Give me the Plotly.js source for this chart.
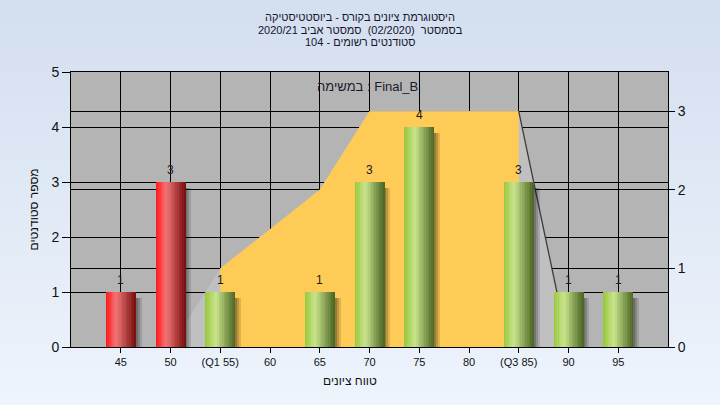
<!DOCTYPE html>
<html><head><meta charset="utf-8">
<script src="https://cdn.plot.ly/plotly-3.0.1.min.js"></script>
<style>
html,body{margin:0;padding:0;}
body{width:720px;height:405px;background:linear-gradient(to bottom,#d3deef 0%,#eef4fc 100%);overflow:hidden;}
#chart{width:720px;height:405px;}
</style>
</head><body><div id="chart"></div>
<script>
// ---- data ----
const gradeLabels = ['45','50','(Q1 55)','60','65','70','75','80','(Q3 85)','90','95'];
const grades = [45,50,55,60,65,70,75,80,85,90,95];
const studentCounts = [1,3,1,0,1,3,4,0,3,1,1];
const curveValues = [0,0,1,1.5,2,3,3,3,3,0,0];
const passGrade = 55;
const titleLines = [
  'היסטוגרמת ציונים בקורס - ביוסטטיסטיקה',
  'בסמסטר  (02/2020)  סמסטר אביב 2020/21',
  'סטודנטים רשומים - 104'
];
const legendText = 'במשימה : Final_B';
const yTitle = 'מספר סטודנטים';
const xTitle = 'טווח ציונים';
const leftTicks = [0,1,2,3,4,5];
const rightTicks = [0,1,2,3];

// ---- build ----
const FONT = 'Liberation Sans, Arial, DejaVu Sans, sans-serif';
const idx = grades.map((g,i)=>i);
const q1 = gradeLabels.findIndex(s=>s.indexOf('Q1')>=0);
const q3 = gradeLabels.findIndex(s=>s.indexOf('Q3')>=0);

function lerp(a,b,t){return a.map((v,i)=>Math.round(v+(b[i]-v)*t));}
function grad(stops,t){
  for(let i=0;i<stops.length-1;i++){
    if(t<=stops[i+1][0]){
      const tt=(t-stops[i][0])/(stops[i+1][0]-stops[i][0]);
      const c=lerp(stops[i][1],stops[i+1][1],tt);
      return 'rgb('+c.join(',')+')';
    }
  }
  const c=stops[stops.length-1][1];return 'rgb('+c.join(',')+')';
}
const redStops=[[0,[255,20,20]],[0.35,[242,118,118]],[1,[118,14,14]]];
const greenStops=[[0,[150,200,58]],[0.35,[202,228,142]],[1,[72,100,32]]];

const traces=[];
// area (primary y axis, shown on the right)
traces.push({type:'scatter',mode:'none',x:idx,y:curveValues,fill:'tozeroy',fillcolor:'#c0c0c0',yaxis:'y',hoverinfo:'skip'});
traces.push({type:'scatter',mode:'none',x:idx.slice(q1,q3+1),y:curveValues.slice(q1,q3+1),fill:'tozeroy',fillcolor:'#fecb57',yaxis:'y',hoverinfo:'skip'});
traces.push({type:'scatter',mode:'lines',x:idx.slice(q3,q3+2),y:curveValues.slice(q3,q3+2),line:{color:'#3c3c3c',width:1.3},yaxis:'y',hoverinfo:'skip'});

// shadows
const barW=0.6;
const shadowH=studentCounts.map(v=>v>0?v-0.04:0);
[[0.04,'rgba(0,0,0,0.18)'],[0.08,'rgba(0,0,0,0.16)'],[0.12,'rgba(0,0,0,0.12)']].forEach(s=>{
  traces.push({type:'bar',x:idx,y:shadowH,base:-0.06,width:barW,offset:-barW/2+s[0],
    marker:{color:s[1],line:{width:0}},yaxis:'y2',hoverinfo:'skip'});
});
// gradient bars
const N=18, sw=barW/N;
for(let k=0;k<N;k++){
  const t=(k+0.5)/N;
  const cols=grades.map(g=>g<passGrade?grad(redStops,t):grad(greenStops,t));
  traces.push({type:'bar',x:idx,y:studentCounts,width:sw*1.15,offset:-barW/2+k*sw,
    marker:{color:cols,line:{width:0}},yaxis:'y2',hoverinfo:'skip'});
}

const L=71,R=52,T=72,B=58,PH=405-T-B,PW=720-L-R;
const annotations=[];
// value labels above bars
studentCounts.forEach((v,i)=>{
  if(v>0) annotations.push({text:String(v),xref:'x',yref:'y2',x:i,y:v,yshift:12,xanchor:'center',yanchor:'middle',
    showarrow:false,font:{family:FONT,size:12,color:'#1a1a1a'}});
});
const ty=[17.5,29.5,41.5];
titleLines.forEach((s,i)=>annotations.push({text:s,xref:'paper',yref:'paper',x:(360-L)/PW,y:(405-B-ty[i])/PH,
  xanchor:'center',yanchor:'middle',showarrow:false,font:{family:FONT,size:11,color:'#16162a'}}));
annotations.push({text:legendText,xref:'paper',yref:'paper',x:(367-L)/PW,y:(405-B-86)/PH,xanchor:'center',yanchor:'middle',
  showarrow:false,font:{family:FONT,size:13,color:'#1a1a30'}});
annotations.push({text:xTitle,xref:'paper',yref:'paper',x:(350-L)/PW,y:(405-B-381)/PH,xanchor:'center',yanchor:'middle',
  showarrow:false,font:{family:FONT,size:12,color:'#111'}});
annotations.push({text:yTitle,xref:'paper',yref:'paper',x:(33-L)/PW,y:0.5,xanchor:'center',yanchor:'middle',textangle:-90,
  showarrow:false,font:{family:FONT,size:12,color:'#111'}});

const layout={
  width:720,height:405,margin:{l:L,r:R,t:T,b:B,pad:0},
  paper_bgcolor:'rgba(0,0,0,0)',plot_bgcolor:'#b4b4b4',
  showlegend:false,barmode:'overlay',bargap:0,
  font:{family:FONT,color:'#111'},
  xaxis:{range:[-1,11],tickvals:idx,ticktext:gradeLabels,showgrid:true,gridcolor:'#000',gridwidth:1,
    ticks:'outside',ticklen:5,tickcolor:'#000',showline:true,linecolor:'#000',linewidth:1,mirror:true,zeroline:false,
    tickfont:{family:FONT,size:11,color:'#111'},fixedrange:true},
  yaxis:{range:[0,3.5],side:'right',tickvals:rightTicks,showgrid:true,gridcolor:'#000',gridwidth:1,
    ticks:'outside',ticklen:6,tickcolor:'#000',showline:true,linecolor:'#000',linewidth:1,zeroline:false,
    tickfont:{family:FONT,size:14,color:'#111'},fixedrange:true},
  yaxis2:{range:[0,5],side:'left',overlaying:'y',tickvals:leftTicks,showgrid:true,gridcolor:'#000',gridwidth:1,
    ticks:'outside',ticklen:8,tickcolor:'#000',showline:true,linecolor:'#000',linewidth:1,zeroline:false,
    tickfont:{family:FONT,size:14,color:'#111'},fixedrange:true},
  annotations:annotations
};
Plotly.newPlot('chart',traces,layout,{displayModeBar:false,staticPlot:true});
</script>
</body></html>
